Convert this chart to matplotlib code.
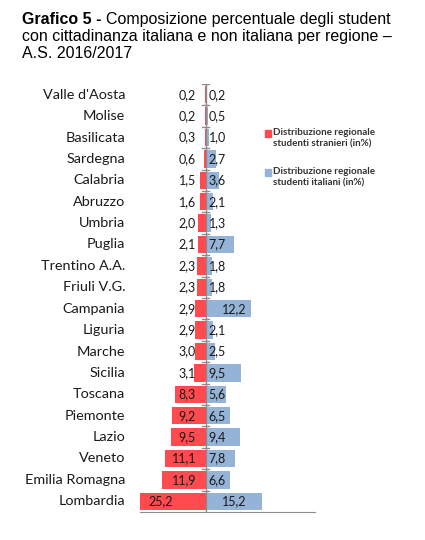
import matplotlib
matplotlib.use("Agg")
import matplotlib.pyplot as plt
from matplotlib.patches import Rectangle

# --------------------------------------------
# Data (top -> bottom as in the chart)
# --------------------------------------------
regions = ["Valle d'Aosta", "Molise", "Basilicata", "Sardegna", "Calabria",
           "Abruzzo", "Umbria", "Puglia", "Trentino A.A.", "Friuli V.G.",
           "Campania", "Liguria", "Marche", "Sicilia", "Toscana",
           "Piemonte", "Lazio", "Veneto", "Emilia Romagna", "Lombardia"]
stranieri = [0.2, 0.2, 0.3, 0.6, 1.5, 1.6, 2.0, 2.1, 2.3, 2.3,
             2.9, 2.9, 3.0, 3.1, 8.3, 9.2, 9.5, 11.1, 11.9, 25.2]
italiani = [0.2, 0.5, 1.0, 2.7, 3.6, 2.1, 1.3, 7.7, 1.8, 1.8,
            12.2, 2.1, 2.5, 9.5, 5.6, 6.5, 9.4, 7.8, 6.6, 15.2]
legend_labels = ["Distribuzione regionale\nstudenti stranieri (in%)",
                 "Distribuzione regionale\nstudenti italiani (in%)"]

red = "#FF4A4F"
blue = "#95B3D7"
grey = "#8C8C8C"
W, H = 425, 540

fig = plt.figure(figsize=(W / 100, H / 100), dpi=100)
ax = fig.add_axes([140 / W, 1 - 512 / H, 175 / W, 428 / H])

ypos = list(range(len(regions)))
ax.barh(ypos, [-v for v in stranieri], height=0.82, color=red)
ax.barh(ypos, italiani, height=0.82, color=blue)

ax.set_xlim(-17.8, 29.6)
ax.set_ylim(len(regions) - 0.5, -0.5)

# value labels, comma decimals
lab_font = dict(family="Lato", size=9, color="#1a1a1a", va="center")
for y, v in enumerate(stranieri):
    s = f"{v:.1f}".replace(".", ",")
    if v > 17.8:
        ax.text(-15.4, y, s, ha="left", **lab_font)
    else:
        ax.text(-2.6, y, s, ha="right", **lab_font)
for y, v in enumerate(italiani):
    s = f"{v:.1f}".replace(".", ",")
    x = 4.4 if v >= 12 else 0.8
    ax.text(x, y, s, ha="left", **lab_font)

# axes: only the centre line and the bottom line
for side in ["top", "right", "left"]:
    ax.spines[side].set_visible(False)
ax.spines["bottom"].set_color(grey)
ax.axvline(0, color=grey, lw=1)
ax.set_xticks([])
ax.set_yticks([])
# small tick marks on the centre line, between categories
for b in range(len(regions)):
    ax.plot([-0.9, 0.9], [b - 0.5, b - 0.5], color=grey, lw=1)

# category names
for y, name in enumerate(regions):
    ax.text(-17.8 - 4.0, y, name, ha="right", va="center",
            family="Lato", size=10.4, color="#1a1a1a", clip_on=False)

# title: bold prefix + regular text
fig.canvas.draw()
r = fig.canvas.get_renderer()
t1 = fig.text(22 / W, 1 - 24 / H, "Grafico 5 - ", family="Liberation Sans",
              weight="bold", size=11.5)
bb = t1.get_window_extent(r)
fig.text(bb.x1 / W, 1 - 24 / H, "Composizione percentuale degli student",
         family="Liberation Sans", size=11.5)
fig.text(22 / W, 1 - 41 / H,
         "con cittadinanza italiana e non italiana per regione \u2013",
         family="Liberation Sans", size=11.5)
fig.text(22 / W, 1 - 58 / H, "A.S. 2016/2017", family="Liberation Sans",
         size=11.5)

# legend drawn by hand: square aligned with first text line
for i, (lab, col) in enumerate(zip(legend_labels, [red, blue])):
    ytop = 133 + i * 39
    fig.patches.append(Rectangle((265 / W, 1 - (ytop + 3.5) / H), 6 / W, 7 / H,
                                 color=col, transform=fig.transFigure))
    fig.text(273 / W, 1 - (ytop - 5) / H, lab, family="Lato", weight="bold",
             size=7.1, color="#333333", va="top", linespacing=1.3)

fig.savefig("out.png", dpi=100)
